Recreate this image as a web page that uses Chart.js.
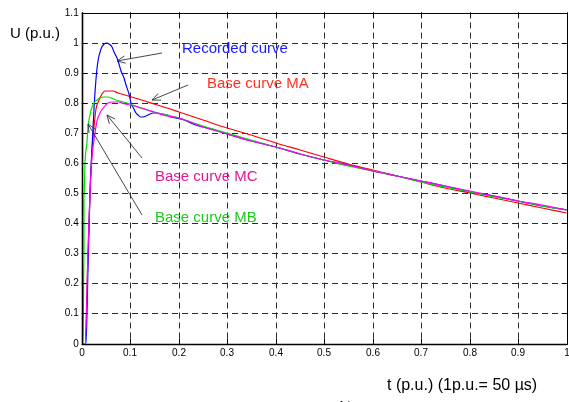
<!DOCTYPE html>
<html>
<head>
<meta charset="utf-8">
<script src="https://cdn.jsdelivr.net/npm/chart.js@4.4.1/dist/chart.umd.min.js"></script>
<style>
html,body{margin:0;padding:0;background:#fff;}
#c{display:block;}
</style>
</head>
<body>
<canvas id="c" width="569" height="402"></canvas>
<script>
// ---- Data ----
const xTicks = [0, 0.1, 0.2, 0.3, 0.4, 0.5, 0.6, 0.7, 0.8, 0.9, 1];
const yTicks = [0, 0.1, 0.2, 0.3, 0.4, 0.5, 0.6, 0.7, 0.8, 0.9, 1, 1.1];

const tRecorded = [0, 0.008, 0.013, 0.018, 0.022, 0.026, 0.030, 0.034, 0.040, 0.046, 0.052, 0.057, 0.062, 0.067, 0.072, 0.077, 0.082, 0.087, 0.092, 0.097, 0.102, 0.107, 0.112, 0.117, 0.122, 0.127, 0.133, 0.140, 0.147, 0.155, 0.165, 0.175, 0.185, 0.195, 0.21, 0.23, 0.25, 0.275, 0.30, 0.35, 0.40, 0.45, 0.50, 0.55, 0.60, 0.65, 0.70, 0.75, 0.80, 0.85, 0.90, 0.95, 1.0];
const uRecorded = [0, 0, 0.25, 0.50, 0.65, 0.78, 0.88, 0.94, 0.98, 0.996, 1.0, 0.995, 0.985, 0.970, 0.950, 0.928, 0.906, 0.882, 0.858, 0.830, 0.800, 0.778, 0.765, 0.758, 0.754, 0.753, 0.756, 0.762, 0.766, 0.767, 0.764, 0.759, 0.754, 0.749, 0.742, 0.731, 0.721, 0.708, 0.696, 0.674, 0.652, 0.631, 0.611, 0.592, 0.573, 0.556, 0.539, 0.522, 0.505, 0.489, 0.473, 0.458, 0.443];

const tMA = [0, 0.007, 0.012, 0.017, 0.021, 0.025, 0.030, 0.035, 0.041, 0.048, 0.056, 0.065, 0.075, 0.09, 0.11, 0.13, 0.15, 0.175, 0.20, 0.25, 0.30, 0.35, 0.40, 0.45, 0.50, 0.55, 0.60, 0.65, 0.70, 0.75, 0.80, 0.85, 0.90, 0.95, 1.0];
const uMA = [0, 0, 0.30, 0.50, 0.64, 0.72, 0.78, 0.81, 0.83, 0.838, 0.840, 0.838, 0.834, 0.826, 0.815, 0.806, 0.797, 0.784, 0.770, 0.743, 0.717, 0.692, 0.667, 0.643, 0.619, 0.596, 0.575, 0.555, 0.536, 0.518, 0.500, 0.483, 0.466, 0.450, 0.435];

const tMB = [0, 0.003, 0.0045, 0.0055, 0.007, 0.010, 0.014, 0.018, 0.022, 0.026, 0.031, 0.037, 0.045, 0.055, 0.07, 0.085, 0.10, 0.12, 0.15, 0.20, 0.25, 0.30, 0.35, 0.40, 0.45, 0.50, 0.55, 0.60, 0.65, 0.70, 0.75, 0.80, 0.85, 0.90, 0.95, 1.0];
const uMB = [0, 0, 0.30, 0.48, 0.60, 0.67, 0.72, 0.76, 0.785, 0.80, 0.81, 0.817, 0.820, 0.818, 0.810, 0.803, 0.797, 0.783, 0.770, 0.751, 0.724, 0.699, 0.676, 0.653, 0.631, 0.610, 0.591, 0.573, 0.555, 0.538, 0.521, 0.504, 0.488, 0.472, 0.457, 0.443];

const tMC = [0, 0.007, 0.012, 0.017, 0.022, 0.027, 0.032, 0.038, 0.045, 0.055, 0.065, 0.075, 0.09, 0.11, 0.13, 0.15, 0.175, 0.20, 0.25, 0.30, 0.35, 0.40, 0.45, 0.50, 0.55, 0.60, 0.65, 0.70, 0.75, 0.80, 0.85, 0.90, 0.95, 1.0];
const uMC = [0, 0, 0.30, 0.50, 0.62, 0.70, 0.74, 0.765, 0.785, 0.798, 0.801, 0.801, 0.797, 0.790, 0.779, 0.768, 0.757, 0.748, 0.721, 0.697, 0.674, 0.652, 0.631, 0.611, 0.592, 0.574, 0.557, 0.540, 0.523, 0.506, 0.490, 0.474, 0.459, 0.445];

// Annotations: [label, color, labelT, labelU, arrowFromT, arrowFromU, arrowToT, arrowToU]
const annotations = [
  ["Recorded curve", "#1a1aff", 0.207, 0.978, 0.166, 0.965, 0.073, 0.938],
  ["Base curve MA", "#ff3322", 0.258, 0.862, 0.220, 0.859, 0.144, 0.809],
  ["Base curve MC", "#e0169b", 0.151, 0.553, 0.124, 0.616, 0.052, 0.759],
  ["Base curve MB", "#1ccc1c", 0.151, 0.417, 0.124, 0.427, 0.013, 0.729]
];

const yTitle = "U (p.u.)";
const xTitle = "t (p.u.) (1p.u.= 50 \u00b5s)";
const subCaption = "b)";

// ---- Build ----
const pts = (t, u) => t.map((v, i) => ({x: v, y: u[i]}));
const fmt = v => String(+(+v).toFixed(1));
const tickFont = {family: "'Liberation Sans Narrow', 'Liberation Sans', Arial, sans-serif", size: 10};

const ds = (label, t, u, color, order) => ({
  label, data: pts(t, u), borderColor: color, backgroundColor: color,
  borderWidth: 1.2, pointRadius: 0, showLine: true, fill: false,
  cubicInterpolationMode: 'monotone', order
});

const decor = {
  id: 'decor',
  afterDraw(chart) {
    const {ctx, chartArea: a, scales: {x, y}} = chart;
    ctx.save();
    // inner ticks
    ctx.strokeStyle = '#000';
    ctx.lineWidth = 1;
    ctx.beginPath();
    xTicks.forEach(v => {
      const px = Math.round(x.getPixelForValue(v)) + 0.5;
      ctx.moveTo(px, a.bottom); ctx.lineTo(px, a.bottom - 5);
      ctx.moveTo(px, a.top); ctx.lineTo(px, a.top + 5);
    });
    yTicks.forEach(v => {
      const py = Math.round(y.getPixelForValue(v)) + 0.5;
      ctx.moveTo(a.left, py); ctx.lineTo(a.left + 5, py);
      ctx.moveTo(a.right, py); ctx.lineTo(a.right - 5, py);
    });
    ctx.stroke();
    // frame
    ctx.lineWidth = 1;
    ctx.strokeRect(Math.round(a.left) + 0.5, Math.round(a.top) + 0.5, Math.round(a.right - a.left), Math.round(a.bottom - a.top));
    ctx.lineWidth = 1.6;
    ctx.beginPath();
    ctx.moveTo(Math.round(a.left) + 0.5, a.top); ctx.lineTo(Math.round(a.left) + 0.5, a.bottom);
    ctx.moveTo(a.left, Math.round(a.bottom) + 0.5); ctx.lineTo(a.right, Math.round(a.bottom) + 0.5);
    ctx.stroke();

    // annotations
    annotations.forEach(([label, color, lt, lu, ft, fu, tt, tu]) => {
      const x1 = x.getPixelForValue(ft), y1 = y.getPixelForValue(fu);
      const x2 = x.getPixelForValue(tt), y2 = y.getPixelForValue(tu);
      ctx.strokeStyle = '#333';
      ctx.lineWidth = 0.9;
      ctx.beginPath();
      ctx.moveTo(x1, y1); ctx.lineTo(x2, y2);
      const ang = Math.atan2(y2 - y1, x2 - x1);
      const L = 9, w = 0.42;
      ctx.moveTo(x2 - L * Math.cos(ang - w), y2 - L * Math.sin(ang - w));
      ctx.lineTo(x2, y2);
      ctx.lineTo(x2 - L * Math.cos(ang + w), y2 - L * Math.sin(ang + w));
      ctx.stroke();
      ctx.fillStyle = color;
      ctx.font = "15px 'Liberation Sans', Arial, sans-serif";
      ctx.textAlign = 'left';
      ctx.textBaseline = 'middle';
      ctx.fillText(label, x.getPixelForValue(lt), y.getPixelForValue(lu));
    });

    // titles
    ctx.fillStyle = '#000';
    ctx.font = "15px 'Liberation Sans', Arial, sans-serif";
    ctx.textAlign = 'left';
    ctx.textBaseline = 'middle';
    ctx.fillText(yTitle, 10, 34);
    ctx.font = "16px 'Liberation Sans', Arial, sans-serif";
    ctx.fillText(xTitle, 387, 386);
    ctx.font = "15px 'Liberation Serif', 'Times New Roman', serif";
    ctx.textBaseline = 'alphabetic';
    ctx.fillText(subCaption, 340, 411);
    ctx.restore();
  }
};

new Chart(document.getElementById('c'), {
  type: 'scatter',
  data: {
    datasets: [
      ds('Base curve MA', tMA, uMA, '#ff0000', 4),
      ds('Recorded curve', tRecorded, uRecorded, '#0000ff', 3),
      ds('Base curve MB', tMB, uMB, '#00e000', 2),
      ds('Base curve MC', tMC, uMC, '#ff00ff', 1)
    ]
  },
  options: {
    responsive: false,
    animation: false,
    events: [],
    layout: {padding: {top: 12.5, right: 2.3, left: 0, bottom: 0}},
    plugins: {legend: {display: false}, tooltip: {enabled: false}},
    scales: {
      x: {
        type: 'linear', min: 0, max: 1, alignToPixels: true,
        afterFit(s) { s.height = 58.5; s.paddingRight = 0; s.paddingLeft = 0; },
        afterBuildTicks(s) { s.ticks = xTicks.map(v => ({value: v})); },
        ticks: {font: tickFont, color: '#000', padding: 4, maxRotation: 0, autoSkip: false, callback: v => fmt(v)},
        grid: {color: '#2a2a2a', lineWidth: 1, drawTicks: false},
        border: {display: false, dash: [6, 4]}
      },
      y: {
        type: 'linear', min: 0, max: 1.1, alignToPixels: true,
        afterFit(s) { s.width = 81.7; s.paddingTop = 0; s.paddingBottom = 0; },
        afterBuildTicks(s) { s.ticks = yTicks.map(v => ({value: v})); },
        ticks: {font: tickFont, color: '#000', padding: 3, autoSkip: false, callback: v => fmt(v)},
        grid: {color: '#2a2a2a', lineWidth: 1, drawTicks: false},
        border: {display: false, dash: [6, 4]}
      }
    }
  },
  plugins: [decor]
});
</script>
</body>
</html>
